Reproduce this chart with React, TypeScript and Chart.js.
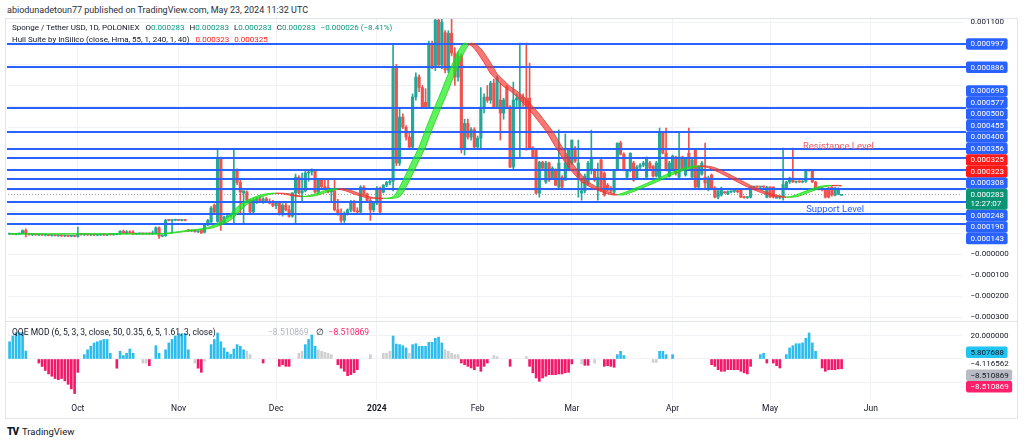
import React, { useEffect, useRef } from 'react';
import { Chart, registerables } from 'chart.js';

Chart.register(...registerables);

const FONT = 'Roboto, "Noto Sans", Arial, sans-serif';
const UNIT = 1e-6;
const START = Date.UTC(2023, 8, 10);
const DAY_MS = 86400000;
const dayIndex = (iso: string) => Math.round((Date.parse(iso + 'T00:00:00Z') - START) / DAY_MS);

// ---- x axis ticks
const monthTickDates = ['2023-10-01', '2023-11-01', '2023-12-01', '2024-01-01', '2024-02-01', '2024-03-01', '2024-04-01', '2024-05-01', '2024-06-01'];
const monthTickLabels = ['Oct', 'Nov', 'Dec', '2024', 'Feb', 'Mar', 'Apr', 'May', 'Jun'];

// ---- daily candles (price in 1e-6 USDT), day 0 = 2023-09-10
const opens = [
  95, 96, 94, 95, 97, 112, 95, 92, 94, 91,
  93, 90, 91, 88, 89, 87, 88, 86, 87, 85,
  86, 84, 95, 92, 93, 91, 92, 90, 91, 92,
  90, 93, 92, 94, 95, 108, 98, 106, 104, 95,
  96, 97, 96, 97, 96, 98, 125, 85, 88, 161,
  160, 161, 162, 160, 161, 114, 110, 112, 106, 112,
  104, 138, 152, 232, 155, 455, 147, 176, 180, 190,
  398, 340, 290, 295, 256, 200, 255, 262, 250, 262,
  248, 242, 230, 245, 190, 232, 210, 180, 290, 365,
  290, 300, 385, 390, 398, 295, 350, 320, 315, 295,
  300, 210, 190, 160, 195, 210, 250, 205, 200, 318,
  285, 255, 210, 242, 313, 294, 327, 340, 345, 887,
  432, 650, 602, 555, 508, 745, 840, 790, 720, 700,
  1000, 887, 1110, 897, 1050, 873, 1048, 954, 840, 940,
  500, 620, 555, 590, 508, 550, 697, 745, 730, 811,
  697, 731, 669, 792, 697, 413, 731, 700, 745, 740,
  740, 503, 493, 289, 436, 342, 432, 361, 398, 318,
  365, 351, 398, 432, 503, 365, 290, 300, 337, 398,
  398, 318, 446, 384, 327, 304, 294, 398, 527, 474,
  365, 398, 432, 361, 413, 422, 365, 432, 417, 370,
  365, 574, 479, 370, 398, 460, 365, 460, 375, 479,
  365, 493, 318, 380, 365, 313, 375, 313, 270, 280,
  294, 285, 295, 298, 300, 304, 270, 268, 270, 318,
  320, 318, 320, 270, 318, 318, 270, 270, 272, 313,
  342, 361, 342, 344, 342, 345, 398, 398, 342, 313,
  310, 308, 313, 318, 280, 285, 283,
];
const highs = [
  98, 99, 97, 100, 115, 120, 98, 96, 97, 95,
  96, 94, 94, 92, 93, 91, 91, 90, 90, 89,
  90, 128, 98, 96, 96, 95, 95, 94, 94, 96,
  94, 96, 96, 98, 112, 114, 112, 110, 112, 99,
  100, 100, 99, 100, 110, 130, 130, 92, 165, 164,
  163, 164, 165, 163, 164, 118, 114, 115, 110, 116,
  140, 165, 225, 238, 498, 460, 180, 185, 190, 498,
  405, 350, 300, 300, 260, 265, 270, 275, 268, 270,
  262, 255, 250, 250, 240, 245, 230, 292, 380, 372,
  384, 395, 400, 405, 402, 355, 360, 355, 352, 310,
  355, 260, 215, 200, 215, 255, 255, 220, 325, 325,
  290, 265, 250, 320, 318, 330, 345, 350, 1000, 900,
  690, 665, 610, 580, 760, 860, 850, 800, 785, 1010,
  1010, 1140, 1140, 1130, 1060, 1060, 1140, 980, 960, 950,
  640, 640, 600, 600, 560, 790, 760, 800, 820, 830,
  845, 811, 740, 800, 705, 816, 760, 1001, 760, 1001,
  906, 510, 500, 440, 440, 440, 436, 415, 405, 590,
  372, 570, 500, 541, 510, 541, 351, 380, 440, 588,
  405, 432, 450, 390, 335, 320, 400, 527, 535, 480,
  400, 480, 440, 420, 430, 440, 460, 440, 420, 440,
  598, 580, 598, 440, 470, 465, 574, 465, 455, 598,
  450, 500, 420, 440, 527, 370, 380, 320, 304, 318,
  298, 300, 300, 302, 305, 306, 275, 272, 320, 322,
  324, 322, 324, 322, 320, 320, 274, 275, 503, 345,
  365, 503, 346, 348, 348, 400, 402, 402, 345, 318,
  315, 312, 318, 320, 318, 315, 283,
];
const lows = [
  92, 93, 91, 93, 95, 82, 90, 88, 90, 88,
  89, 86, 87, 85, 86, 84, 84, 83, 83, 82,
  82, 80, 90, 88, 89, 88, 88, 87, 88, 89,
  87, 90, 89, 91, 93, 96, 95, 98, 92, 92,
  93, 94, 93, 94, 93, 95, 75, 82, 84, 158,
  100, 158, 159, 157, 158, 108, 106, 104, 102, 98,
  100, 135, 150, 195, 150, 112, 140, 170, 175, 147,
  330, 190, 147, 250, 195, 190, 240, 245, 240, 245,
  238, 225, 215, 185, 180, 205, 175, 175, 142, 285,
  250, 295, 345, 375, 290, 285, 310, 310, 290, 245,
  205, 185, 150, 150, 185, 200, 200, 195, 190, 280,
  250, 160, 200, 235, 190, 290, 320, 330, 300, 420,
  420, 595, 540, 495, 500, 730, 770, 690, 690, 690,
  880, 870, 890, 880, 860, 860, 940, 800, 820, 480,
  470, 545, 540, 500, 495, 500, 670, 720, 715, 690,
  690, 541, 640, 690, 410, 405, 700, 460, 700, 493,
  500, 455, 285, 270, 400, 335, 345, 355, 325, 310,
  315, 350, 395, 425, 435, 270, 256, 290, 330, 380,
  345, 256, 300, 275, 300, 290, 285, 395, 470, 395,
  360, 390, 345, 355, 405, 415, 360, 400, 365, 365,
  360, 475, 395, 365, 395, 375, 360, 395, 370, 410,
  360, 315, 310, 375, 313, 300, 310, 266, 262, 275,
  288, 282, 290, 292, 290, 268, 265, 264, 266, 314,
  316, 314, 316, 266, 268, 266, 266, 262, 256, 310,
  335, 340, 338, 340, 338, 340, 394, 340, 310, 305,
  300, 266, 266, 275, 276, 282, 283,
];
const closes = [
  96, 94, 95, 97, 112, 95, 92, 94, 91, 93,
  90, 91, 88, 89, 87, 88, 86, 87, 85, 86,
  84, 95, 92, 93, 91, 92, 90, 91, 92, 90,
  93, 92, 94, 95, 108, 98, 106, 100, 95, 96,
  97, 96, 97, 96, 98, 125, 85, 88, 161, 160,
  161, 162, 160, 161, 160, 110, 112, 106, 108, 100,
  138, 160, 218, 199, 455, 147, 176, 180, 185, 394,
  340, 295, 300, 256, 200, 255, 262, 250, 262, 248,
  242, 230, 245, 190, 232, 210, 180, 290, 365, 290,
  300, 385, 390, 398, 295, 350, 320, 315, 295, 300,
  210, 190, 160, 195, 210, 250, 205, 200, 318, 285,
  255, 210, 242, 313, 200, 327, 340, 345, 887, 432,
  650, 602, 555, 508, 745, 840, 790, 697, 700, 1000,
  887, 1110, 897, 1100, 873, 1048, 954, 840, 940, 500,
  620, 555, 590, 508, 550, 697, 745, 730, 811, 697,
  835, 669, 731, 697, 413, 731, 740, 745, 740, 692,
  503, 460, 289, 436, 408, 432, 351, 408, 327, 432,
  318, 432, 493, 541, 441, 432, 300, 370, 432, 460,
  351, 365, 304, 280, 304, 300, 398, 527, 474, 398,
  398, 479, 351, 413, 422, 432, 460, 408, 370, 432,
  574, 479, 398, 432, 465, 384, 460, 398, 450, 413,
  446, 318, 413, 432, 337, 361, 313, 270, 300, 313,
  290, 297, 298, 300, 296, 270, 268, 270, 318, 320,
  318, 320, 318, 318, 272, 270, 270, 272, 330, 342,
  361, 342, 344, 342, 345, 398, 396, 342, 313, 310,
  308, 270, 270, 280, 313, 309, 283,
];

// ---- Hull Suite (HMA 55), 1e-6 units
const hullValues = [
  96, 96, 96, 96, 96, 96, 96, 96, 96, 96,
  96, 96, 96, 96, 96, 96, 96, 96, 96, 96,
  96, 96, 96, 96, 96, 96, 96, 96, 96, 96,
  96, 96, 96, 96, 96, 96, 96, 96, 96, 96,
  96, 96, 96, 96, 96, 96, 96, 97, 99, 101,
  103, 105, 107, 109, 111, 113, 114, 116, 118, 120,
  123, 127, 132, 138, 145, 152, 162, 175, 190, 207,
  222, 235, 246, 255, 262, 268, 274, 279, 283, 286,
  288, 289, 289, 288, 286, 283, 280, 277, 275, 273,
  273, 274, 277, 281, 286, 291, 296, 301, 305, 308,
  310, 309, 306, 302, 297, 291, 285, 280, 275, 271,
  268, 266, 265, 265, 264, 264, 265, 267, 272, 290,
  318, 348, 380, 413, 445, 476, 508, 550, 592, 630,
  668, 705, 740, 778, 818, 855, 892, 928, 962, 988,
  1001, 998, 990, 975, 955, 932, 908, 882, 855, 840,
  825, 810, 795, 785, 775, 762, 748, 733, 717, 700,
  683, 665, 645, 625, 605, 585, 560, 534, 508, 484,
  458, 435, 413, 393, 375, 358, 342, 333, 324, 316,
  309, 303, 297, 291, 286, 282, 280, 281, 286, 291,
  297, 303, 310, 316, 322, 329, 335, 342, 349, 356,
  363, 370, 377, 383, 389, 395, 400, 405, 409, 413,
  416, 418, 418, 417, 414, 410, 404, 397, 390, 382,
  374, 366, 358, 350, 342, 334, 326, 319, 312, 305,
  299, 293, 288, 284, 280, 276, 273, 271, 270, 270,
  272, 276, 281, 287, 293, 299, 305, 311, 316, 320,
  323, 325, 326, 326, 325, 324, 323,
];
const HULL_SHIFT = 2;

// ---- horizontal levels drawn on the chart
const levelValues = [0.000997, 0.000886, 0.000695, 0.000577, 0.0005, 0.000455, 0.0004, 0.000356, 0.000308, 0.000248, 0.00019, 0.000143];

// ---- text annotations
const noteTexts = ['Resistance Level', 'Support Level'];
const noteDates = ['2024-05-22', '2024-05-21'];
const notePrices = [0.000512, 0.000211];
const noteColors = ['#f05a64', '#2962ff'];

// ---- QQE MOD histogram (state: 1 blue, -1 red, 0 grey)
const qqeValues = [
  15, 20, 23, 23, 23, 7, null, null, null, -3.5,
  -6.5, -10, -13, -15, -17, -18, -17, -19, -22, -26,
  -30, -11.6, null, 3.8, 8, 11, 14, 15, 16, 17,
  17, 5, null, -8, 6.7, 3, 5, 8.7, 5, null,
  null, -3.5, -3.5, -5.8, null, 11.6, 5, null, 8, 14,
  17, 20, 22, 22, 22, 8, null, -3.5, -8, -11.6,
  -2, null, 12.5, 17, 22.6, 15, 9.6, 6, 4, 8.7,
  12.5, 11, 8, 6.7, 3.8, null, null, null, -3.5, null,
  null, null, null, -6.4, -5, -6.4, -6.4, null, null, 5,
  6.7, 12.5, 17, 21, 11, 8, 6.7, 5.8, 5, 3.8,
  null, -5, -8, -10.7, -14.5, -13.6, -12, -9.3, null, null,
  null, 3.8, null, null, null, 5, 5, 6.7, 20, 13,
  12.5, 11.6, 9.6, 5, 12.5, 13.3, 11, 11, 11, 14.5,
  14.5, 18, 19, 14, 8, 6.7, 5, 3.8, 3.8, -3.5,
  -5, -6.4, -7.8, -9.3, -6.4, -10.7, -6.4, -3.5, null, 3,
  2, null, null, null, -6.4, null, null, null, null, 2,
  -6.4, -12, -16.5, -19.4, -16.5, -15, -13.6, -13.6, -13.6, -13,
  -13, -12, -11.6, -4.3, null, null, -4.3, -5.5, -5.5, null,
  -3.5, null, null, -6.4, -5.8, -6.4, -7.2, 3.8, 6.7, 3,
  null, null, null, null, null, null, null, null, -3, -3,
  6.7, 6.7, 3.8, null, 3.8, null, null, null, null, null,
  null, null, null, null, null, null, -5, -6.4, -9.3, -10.7,
  -10.7, -9.3, -9.3, -9.3, -9.3, -10.7, -12, -13, -6.4, null,
  null, 3.8, 5, -3.5, null, -3.5, -5.8, -7.8, null, 3.8,
  9.6, 11.6, 13.3, 13.3, 14, 18, 22.6, 14, 6.7, null,
  -7.8, -10.7, -9.3, -9.3, -9.3, -8.7, -8.510869,
];
const qqeState = [
  1, 1, 1, 1, 1, 1, 0, 0, 0, -1,
  -1, -1, -1, -1, -1, -1, -1, -1, -1, -1,
  -1, -1, 0, 1, 1, 1, 1, 1, 1, 1,
  1, 1, 0, -1, 1, 1, 1, 1, 1, 0,
  0, 0, 0, -1, 0, 1, 1, 0, 1, 1,
  1, 1, 1, 1, 1, 1, 0, 0, -1, -1,
  0, 0, 1, 1, 1, 1, 1, 1, 1, 1,
  1, 1, 1, 0, 0, 0, 0, 0, -1, 0,
  0, 0, 0, -1, -1, -1, -1, 0, 0, 0,
  0, 1, 1, 1, 1, 0, 0, 0, 0, 0,
  0, -1, -1, -1, -1, -1, -1, -1, 0, 0,
  0, 0, 0, 0, 0, 0, 0, 0, 1, 1,
  1, 1, 1, 0, 1, 1, 1, 1, 1, 1,
  1, 1, 1, 1, 0, 0, 0, 0, 0, -1,
  -1, -1, -1, -1, -1, -1, -1, -1, 0, 0,
  0, 0, 0, 0, -1, 0, 0, 0, 0, 0,
  -1, -1, -1, -1, -1, -1, -1, -1, -1, -1,
  -1, -1, -1, -1, 0, 0, 0, -1, -1, 0,
  0, 0, 0, -1, -1, -1, -1, 1, 1, 1,
  0, 0, 0, 0, 0, 0, 0, 0, 0, 0,
  1, 1, 1, 0, 1, 0, 0, 0, 0, 0,
  0, 0, 0, 0, 0, 0, -1, -1, -1, -1,
  -1, -1, -1, -1, -1, -1, -1, -1, -1, 0,
  0, 1, 1, -1, 0, -1, -1, -1, 0, 1,
  1, 1, 1, 1, 1, 1, 1, 1, 1, 0,
  -1, -1, -1, -1, -1, -1, -1,
];
const qqeAxisValues = [5.807688, -4.116562, -8.510869, -8.510869];
const qqeAxisKinds = ['cyan', 'plain', 'grey', 'pink'];

// ---- axis ranges
const X_MIN = -0.49;
const X_MAX = 293.05;
const PRICE_MIN = -0.000322;
const PRICE_MAX = 0.00112;
const QQE_MIN = -35.65;
const QQE_MAX = 32.17;
const COUNTDOWN = '12:27:07';

// ---- styles
const UP = '#26a69a';
const DOWN = '#ef5350';
const GRID = '#f0f2f6';
const FRAME = '#e0e3eb';
const LEVEL = '#2962ff';
const HULL_UP_FILL = 'rgba(20,235,20,0.68)';
const HULL_DN_FILL = 'rgba(245,50,50,0.66)';
const HULL_UP_LINE = 'rgba(20,225,20,0.85)';
const HULL_DN_LINE = 'rgba(240,50,50,0.85)';
const Q_BLUE = '#2cbdec';
const Q_RED = '#f0196a';
const Q_GREY = '#cfcfcf';
const TEXT = '#131722';
const AXIS_FONT = 8;
const LABEL_H = 11.5;

const monthTickDays = monthTickDates.map(dayIndex);
const fmtPrice = (v: number) => (Math.abs(v) < 1e-12 ? '\u22120.000000' : (v < 0 ? '\u2212' : '') + Math.abs(v).toFixed(6));
const fmtQqe = (v: number) => (v < 0 ? '\u2212' : '') + Math.abs(v).toFixed(6);
const hullShifted = hullValues.map((_, i) => hullValues[Math.max(0, i - HULL_SHIFT)]);
const hullRising = (i: number) => hullValues[i] >= hullShifted[i];

function stackLabels(items: { y: number; h: number; off: number }[], anchor: number) {
  const order = items.map((_, i) => i).sort((a, b) => items[a].y - items[b].y || a - b);
  const centers: number[] = new Array(items.length);
  const ai = order.indexOf(anchor);
  const a = items[order[ai]];
  centers[order[ai]] = a.y + a.off;
  let top = centers[order[ai]] - a.h / 2;
  for (let k = ai - 1; k >= 0; k--) {
    const it = items[order[k]];
    const c = Math.min(it.y + it.off, top - it.h / 2);
    centers[order[k]] = c;
    top = c - it.h / 2;
  }
  let bottom = centers[order[ai]] + a.h / 2;
  for (let k = ai + 1; k < order.length; k++) {
    const it = items[order[k]];
    const c = Math.max(it.y + it.off, bottom + it.h / 2);
    centers[order[k]] = c;
    bottom = c + it.h / 2;
  }
  return centers;
}

function box(ctx: CanvasRenderingContext2D, x: number, top: number, w: number, h: number, bg: string) {
  ctx.fillStyle = bg;
  ctx.beginPath();
  if ((ctx as any).roundRect) (ctx as any).roundRect(x, top, w, h, 2);
  else ctx.rect(x, top, w, h);
  ctx.fill();
}

const pricePlugin = {
  id: 'pricePlugin',
  beforeDatasetsDraw(chart: any) {
    const { ctx, chartArea: a, scales } = chart;
    const y = scales.y;
    ctx.save();
    const yc = Math.round(y.getPixelForValue(closes[closes.length - 1] * UNIT)) + 0.5;
    ctx.strokeStyle = '#9aa0aa';
    ctx.lineWidth = 1;
    ctx.setLineDash([1, 2]);
    ctx.beginPath();
    ctx.moveTo(a.left - 3, yc);
    ctx.lineTo(a.right, yc);
    ctx.stroke();
    ctx.restore();
  },
  afterDatasetDraw(chart: any, args: any) {
    // level lines go over the candles but under the Hull band
    if (args.index !== 2) return;
    const { ctx, chartArea: a, scales } = chart;
    const y = scales.y;
    ctx.save();
    ctx.strokeStyle = LEVEL;
    ctx.lineWidth = 1.8;
    for (const lv of levelValues) {
      const py = Math.round(y.getPixelForValue(lv));
      ctx.beginPath();
      ctx.moveTo(a.left - 1, py);
      ctx.lineTo(a.right + 4, py);
      ctx.stroke();
    }
    ctx.restore();
  },
  afterDatasetsDraw(chart: any) {
    const { ctx, scales } = chart;
    ctx.save();
    ctx.font = `9.5px ${FONT}`;
    ctx.textAlign = 'center';
    ctx.textBaseline = 'middle';
    noteTexts.forEach((t, i) => {
      ctx.fillStyle = noteColors[i];
      ctx.fillText(t, scales.x.getPixelForValue(dayIndex(noteDates[i])), scales.y.getPixelForValue(notePrices[i]));
    });
    ctx.restore();
  },
  afterDraw(chart: any) {
    const { ctx, chartArea: a, scales, width, height } = chart;
    const y = scales.y;
    const last = closes.length - 1;
    const labels: { v: number; lines: string[]; bg: string; fg: string }[] = [];
    levelValues.forEach((v) => labels.push({ v, lines: [fmtPrice(v)], bg: LEVEL, fg: '#ffffff' }));
    const hv = hullValues[last] * UNIT;
    const hs = hullShifted[last] * UNIT;
    labels.push({ v: hs, lines: [fmtPrice(hs)], bg: '#ff1a1a', fg: '#ffffff' });
    labels.push({ v: hv, lines: [fmtPrice(hv)], bg: '#ff1a1a', fg: '#ffffff' });
    const cp = closes[last] * UNIT;
    labels.push({ v: cp, lines: [fmtPrice(cp), COUNTDOWN], bg: '#0b9474', fg: '#ffffff' });
    const anchor = labels.length - 1;
    const items = labels.map((l) => {
      const h = l.lines.length === 1 ? LABEL_H : LABEL_H * 2 - 2;
      return { y: y.getPixelForValue(l.v), h, off: (h - LABEL_H) / 2 };
    });
    const centers = stackLabels(items, anchor);
    ctx.save();
    ctx.font = `${AXIS_FONT}px ${FONT}`;
    ctx.textBaseline = 'middle';
    ctx.textAlign = 'left';
    const tx = a.right + 8.5;
    ctx.fillStyle = TEXT;
    for (const t of y.ticks) {
      const py = y.getPixelForValue(t.value);
      if (py < a.top + 3 || py > a.bottom - 3) continue;
      const hit = items.some((it, i) => py > centers[i] - it.h / 2 - 5 && py < centers[i] + it.h / 2 + 5);
      if (hit) continue;
      ctx.fillText(fmtPrice(t.value), tx, py);
    }
    labels.forEach((l, i) => {
      const it = items[i];
      const top = centers[i] - it.h / 2;
      const w = Math.max(39, ctx.measureText(l.lines[0]).width + 8);
      box(ctx, a.right + 4, top, w, it.h, l.bg);
      ctx.fillStyle = l.fg;
      l.lines.forEach((s, k) => ctx.fillText(s, tx, top + LABEL_H / 2 + k * (LABEL_H - 2) + 0.5));
    });
    ctx.strokeStyle = FRAME;
    ctx.lineWidth = 1;
    ctx.beginPath();
    ctx.moveTo(5.5, 0.5);
    ctx.lineTo(width - 6.5, 0.5);
    ctx.lineTo(width - 6.5, height);
    ctx.moveTo(5.5, 0);
    ctx.lineTo(5.5, height);
    ctx.moveTo(5.5, height - 0.5);
    ctx.lineTo(width - 6.5, height - 0.5);
    ctx.stroke();
    ctx.restore();
  },
};

const qqePlugin = {
  id: 'qqePlugin',
  afterDraw(chart: any) {
    const { ctx, chartArea: a, scales, width, height } = chart;
    const y = scales.y;
    ctx.save();
    ctx.font = `${AXIS_FONT}px ${FONT}`;
    ctx.textBaseline = 'middle';
    ctx.textAlign = 'left';
    const tx = a.right + 8.5;
    const items = qqeAxisValues.map((v) => ({ y: y.getPixelForValue(v), h: LABEL_H, off: 0 }));
    const centers = stackLabels(items, 0);
    ctx.fillStyle = TEXT;
    for (const t of y.ticks) {
      const py = y.getPixelForValue(t.value);
      if (py < a.top + 3 || py > a.bottom - 3) continue;
      const hit = items.some((it, i) => py > centers[i] - it.h / 2 - 5 && py < centers[i] + it.h / 2 + 5);
      if (hit) continue;
      ctx.fillText(fmtQqe(t.value), tx, py);
    }
    qqeAxisValues.forEach((v, i) => {
      const s = fmtQqe(v);
      const w = Math.max(39, ctx.measureText(s).width + 8);
      const top = centers[i] - LABEL_H / 2;
      const kind = qqeAxisKinds[i];
      let fg = TEXT;
      if (kind === 'cyan') box(ctx, a.right + 4, top, w, LABEL_H, '#22c4f2');
      if (kind === 'grey') box(ctx, a.right + 4, top, w, LABEL_H, '#b8bbc3');
      if (kind === 'pink') { box(ctx, a.right + 4, top, w, LABEL_H, '#ff1f6b'); fg = '#ffffff'; }
      ctx.fillStyle = fg;
      ctx.fillText(s, tx, centers[i] + 0.5);
    });
    ctx.strokeStyle = FRAME;
    ctx.lineWidth = 1;
    ctx.beginPath();
    ctx.moveTo(5.5, 0);
    ctx.lineTo(5.5, height - 0.5);
    ctx.lineTo(width - 6.5, height - 0.5);
    ctx.lineTo(width - 6.5, 0);
    ctx.stroke();
    ctx.restore();
  },
};

const xTicksAfterBuild = (scale: any) => {
  scale.ticks = monthTickDays.map((v) => ({ value: v }));
};

export default function App() {
  const priceRef = useRef<HTMLCanvasElement>(null);
  const qqeRef = useRef<HTMLCanvasElement>(null);

  useEffect(() => {
    const candleColors = closes.map((c, i) => (c >= opens[i] ? UP : DOWN));
    const priceChart = new Chart(priceRef.current as HTMLCanvasElement, {
      type: 'bar',
      data: {
        datasets: [
          {
            type: 'line',
            label: 'Hull',
            data: hullValues.map((v, i) => ({ x: i, y: v * UNIT })),
            borderWidth: 1,
            pointRadius: 0,
            borderColor: HULL_UP_LINE,
            segment: { borderColor: (c: any) => (hullRising(c.p1DataIndex) ? HULL_UP_LINE : HULL_DN_LINE) },
            fill: { target: '+1', above: HULL_UP_FILL, below: HULL_DN_FILL },
          } as any,
          {
            type: 'line',
            label: 'Hull shifted',
            data: hullShifted.map((v, i) => ({ x: i, y: v * UNIT })),
            borderWidth: 1,
            pointRadius: 0,
            borderColor: HULL_UP_LINE,
            segment: { borderColor: (c: any) => (hullRising(c.p1DataIndex) ? HULL_UP_LINE : HULL_DN_LINE) },
            fill: false,
          } as any,
          {
            type: 'bar',
            label: 'Wicks',
            data: lows.map((l, i) => ({ x: i, y: [l * UNIT, highs[i] * UNIT] })),
            backgroundColor: candleColors,
            barThickness: 1,
            grouped: false,
            borderWidth: 0,
          } as any,
          {
            type: 'bar',
            label: 'Bodies',
            data: opens.map((o, i) => ({ x: i, y: [o * UNIT, closes[i] * UNIT] })),
            backgroundColor: candleColors,
            barThickness: 2.5,
            minBarLength: 1,
            grouped: false,
            borderWidth: 0,
          } as any,
        ],
      },
      options: {
        responsive: false,
        animation: false,
        events: [],
        layout: { padding: { left: 8, right: 0, top: 0, bottom: 0 } },
        plugins: { legend: { display: false }, tooltip: { enabled: false } },
        scales: {
          x: {
            type: 'linear',
            offset: false,
            min: X_MIN,
            max: X_MAX,
            afterBuildTicks: xTicksAfterBuild,
            afterFit: (s: any) => { s.height = 0; },
            ticks: { display: false },
            grid: { color: GRID, drawTicks: false, offset: false },
            border: { display: false },
          },
          y: {
            type: 'linear',
            position: 'right',
            min: PRICE_MIN,
            max: PRICE_MAX,
            afterFit: (s: any) => { s.width = 62; },
            ticks: { display: false, stepSize: 0.0001, includeBounds: false },
            grid: { color: GRID, drawTicks: false },
            border: { display: false },
          },
        },
      } as any,
      plugins: [pricePlugin as any],
    });

    const qqePoints: { x: number; y: number }[] = [];
    const qqeColors: string[] = [];
    qqeValues.forEach((v, i) => {
      if (v === null) return;
      qqePoints.push({ x: i, y: v as number });
      qqeColors.push(qqeState[i] === 1 ? Q_BLUE : qqeState[i] === -1 ? Q_RED : Q_GREY);
    });
    const qqeChart = new Chart(qqeRef.current as HTMLCanvasElement, {
      type: 'bar',
      data: {
        datasets: [
          {
            label: 'QQE',
            data: qqePoints,
            backgroundColor: qqeColors,
            barThickness: 2,
            grouped: false,
            borderWidth: 0,
          } as any,
        ],
      },
      options: {
        responsive: false,
        animation: false,
        events: [],
        layout: { padding: { left: 8, right: 0, top: 0, bottom: 0 } },
        plugins: { legend: { display: false }, tooltip: { enabled: false } },
        scales: {
          x: {
            type: 'linear',
            offset: false,
            min: X_MIN,
            max: X_MAX,
            afterBuildTicks: xTicksAfterBuild,
            afterFit: (s: any) => { s.height = 19; },
            ticks: {
              autoSkip: false,
              maxRotation: 0,
              padding: 4,
              color: TEXT,
              font: (c: any) => ({ family: FONT, size: AXIS_FONT + 0.5, weight: c.tick && c.tick.label === '2024' ? 'bold' : 'normal' }),
              callback: (v: any) => {
                const k = monthTickDays.indexOf(Math.round(Number(v)));
                return k >= 0 ? monthTickLabels[k] : '';
              },
            },
            grid: { color: GRID, drawTicks: false, offset: false },
            border: { display: false },
          },
          y: {
            type: 'linear',
            position: 'right',
            min: QQE_MIN,
            max: QQE_MAX,
            afterFit: (s: any) => { s.width = 62; },
            ticks: { display: false, stepSize: 20, includeBounds: false },
            grid: { color: GRID, drawTicks: false },
            border: { display: false },
          },
        },
      } as any,
      plugins: [qqePlugin as any],
    });

    return () => {
      priceChart.destroy();
      qqeChart.destroy();
    };
  }, []);

  const teal = '#089981';
  const txt: React.CSSProperties = { position: 'absolute', whiteSpace: 'nowrap', fontFamily: FONT, color: TEXT, lineHeight: '11px' };
  const gap = { marginLeft: 5 };

  return (
    <div style={{ position: 'absolute', left: 0, top: 0, width: 1024, height: 443, background: '#ffffff', overflow: 'hidden', fontFamily: FONT }}>
      <div style={{ ...txt, left: 7, top: 5, fontSize: 9, color: '#2a2e39' }}>
        abiodunadetoun77 published on TradingView.com, May 23, 2024 11:32 UTC
      </div>
      <canvas ref={priceRef} width={1024} height={304} style={{ position: 'absolute', left: 0, top: 18, width: 1024, height: 304, display: 'block' }} />
      <canvas ref={qqeRef} width={1024} height={97} style={{ position: 'absolute', left: 0, top: 322, width: 1024, height: 97, display: 'block' }} />
      <div style={{ ...txt, left: 12, top: 22, fontSize: 8 }}>
        <span>Sponge / Tether USD, 1D, POLONIEX</span>
        <span style={{ marginLeft: 6 }}>O</span><span style={{ color: teal }}>0.000283</span>
        <span style={gap}>H</span><span style={{ color: teal }}>0.000283</span>
        <span style={gap}>L</span><span style={{ color: teal }}>0.000283</span>
        <span style={gap}>C</span><span style={{ color: teal }}>0.000283</span>
        <span style={{ ...gap, color: teal }}>{'\u22120.000026 (\u22128.41%)'}</span>
      </div>
      <div style={{ ...txt, left: 12, top: 34, fontSize: 8 }}>
        <span>Hull Suite by InSilico (close, Hma, 55, 1, 240, 1, 40)</span>
        <span style={{ marginLeft: 6, color: '#ff1a1a' }}>0.000323</span>
        <span style={{ ...gap, color: '#ff1a1a' }}>0.000325</span>
      </div>
      <div style={{ ...txt, left: 12, top: 327, fontSize: 8.5 }}>
        <span>QQE MOD (6, 5, 3, 3, close, 50, 0.35, 6, 5, 1.61, 3, close)</span>
      </div>
      <div style={{ ...txt, left: 268, top: 327, fontSize: 8.5 }}>
        <span style={{ color: '#b2b5be' }}>{'\u22128.510869'}</span>
        <span style={{ marginLeft: 7 }}>{'\u2205'}</span>
        <span style={{ marginLeft: 5, color: '#ff1f6b' }}>{'\u22128.510869'}</span>
      </div>
      <div style={{ ...txt, left: 7, top: 426, fontSize: 10, fontWeight: 900, letterSpacing: -1 }}>TV</div>
      <div style={{ ...txt, left: 22, top: 426, fontSize: 9.5 }}>TradingView</div>
    </div>
  );
}
